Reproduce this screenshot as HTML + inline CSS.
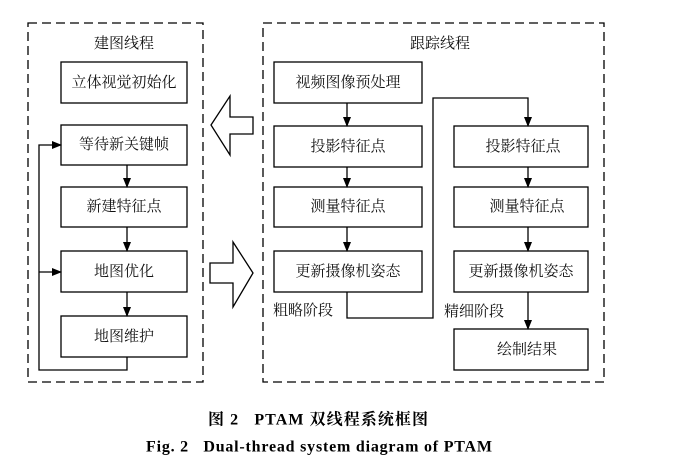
<!DOCTYPE html>
<html><head><meta charset="utf-8"><style>
html,body{margin:0;padding:0;background:#fff;}
svg{display:block;}
.t{font-family:"Liberation Serif","Noto Serif CJK SC",serif;font-size:15px;fill:#111;}
.c{font-family:"Liberation Serif","Noto Serif CJK SC",serif;font-size:16px;font-weight:bold;fill:#000;}
</style></head><body>
<svg width="674" height="464" viewBox="0 0 674 464" xmlns="http://www.w3.org/2000/svg">
<defs><marker id="a" markerWidth="10" markerHeight="10" refX="9" refY="5" orient="auto" markerUnits="userSpaceOnUse"><path d="M0,1 L10,5 L0,9 z" fill="#000"/></marker></defs>
<g fill="none" stroke="#000" stroke-width="1.3">
<rect x="28" y="23" width="175" height="359" stroke-dasharray="9,5"/>
<rect x="263" y="23" width="341" height="359" stroke-dasharray="9,5"/>
<rect x="61" y="62" width="126" height="41"/>
<rect x="61" y="125" width="126" height="40"/>
<rect x="61" y="187" width="126" height="40"/>
<rect x="61" y="251" width="126" height="41"/>
<rect x="61" y="316" width="126" height="41"/>
<line x1="127" y1="165" x2="127" y2="187" marker-end="url(#a)"/>
<line x1="127" y1="227" x2="127" y2="251" marker-end="url(#a)"/>
<line x1="127" y1="292" x2="127" y2="316" marker-end="url(#a)"/>
<polyline points="127,357 127,370 39,370 39,145 61,145" marker-end="url(#a)"/>
<line x1="39" y1="272" x2="61" y2="272" marker-end="url(#a)"/>
<polygon points="211,125 230,96 230,117 253,117 253,134 230,134 230,155"/>
<polygon points="253,273 233,242 233,263 210,263 210,283 233,283 233,307"/>
<rect x="274" y="62" width="148" height="41"/>
<rect x="274" y="126" width="148" height="41"/>
<rect x="274" y="187" width="148" height="40"/>
<rect x="274" y="251" width="148" height="41"/>
<rect x="454" y="126" width="134" height="41"/>
<rect x="454" y="187" width="134" height="40"/>
<rect x="454" y="251" width="134" height="41"/>
<rect x="454" y="329" width="134" height="41"/>
<line x1="347" y1="103" x2="347" y2="126" marker-end="url(#a)"/>
<line x1="347" y1="167" x2="347" y2="187" marker-end="url(#a)"/>
<line x1="347" y1="227" x2="347" y2="251" marker-end="url(#a)"/>
<polyline points="347,292 347,318 433,318 433,98 528,98 528,126" marker-end="url(#a)"/>
<line x1="528" y1="167" x2="528" y2="187" marker-end="url(#a)"/>
<line x1="528" y1="227" x2="528" y2="251" marker-end="url(#a)"/>
<line x1="528" y1="292" x2="528" y2="329" marker-end="url(#a)"/>
</g>
<g class="t" text-anchor="middle" dominant-baseline="central">
<text x="124" y="44">建图线程</text>
<text x="124" y="83">立体视觉初始化</text>
<text x="124" y="145">等待新关键帧</text>
<text x="124" y="207">新建特征点</text>
<text x="124" y="272">地图优化</text>
<text x="124" y="337">地图维护</text>
<text x="440" y="44">跟踪线程</text>
<text x="348" y="83">视频图像预处理</text>
<text x="348" y="147">投影特征点</text>
<text x="348" y="207">测量特征点</text>
<text x="348" y="272">更新摄像机姿态</text>
<text x="523" y="147">投影特征点</text>
<text x="527" y="207">测量特征点</text>
<text x="521" y="272">更新摄像机姿态</text>
<text x="527" y="350">绘制结果</text>
<text x="303" y="311">粗略阶段</text>
<text x="474" y="312">精细阶段</text>
</g>
<g class="c" dominant-baseline="central">
<text x="208" y="420" textLength="220" lengthAdjust="spacing" xml:space="preserve">图 2   PTAM 双线程系统框图</text>
<text x="146" y="447" textLength="346" lengthAdjust="spacing" xml:space="preserve">Fig. 2   Dual-thread system diagram of PTAM</text>
</g>
</svg>
</body></html>
